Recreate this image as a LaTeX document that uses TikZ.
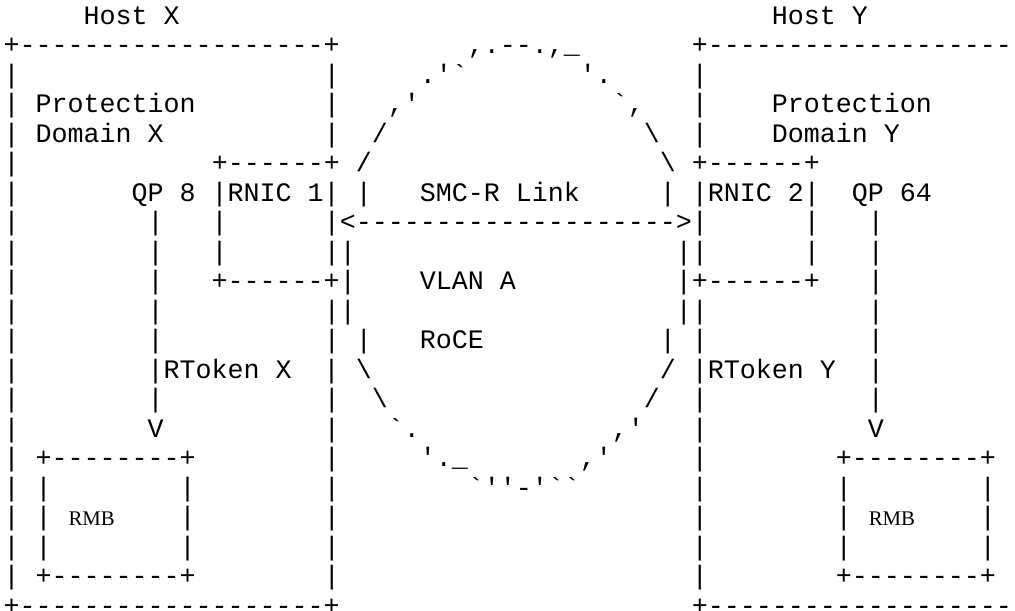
\documentclass[tikz,border=0pt]{standalone}
\usepackage{fontspec}
\setmonofont{Liberation Mono}
\newfontfamily\rmbfont{Liberation Serif}
\newdimen\CW \CW=6.001pt
\newcommand\SP[1]{\hspace*{#1\CW}}
\newcommand\BS{\textbackslash}

\begin{document}
\begin{tikzpicture}[x=1pt,y=1pt,
  ascii/.style={anchor=base west, inner sep=0pt, outer sep=0pt,
    font=\fontsize{10pt}{11pt}\ttfamily\frenchspacing},
  rmb/.style={anchor=base, inner sep=0pt, outer sep=0pt,
    font=\fontsize{7.8pt}{9pt}\rmbfont}]
\def\XL{1.39};\def\TOP{-9.04};\def\LH{11.06};
\useasboundingbox (0,0) rectangle (380.6,-228.75);
% hosts, protection domains, RNICs and the link
\node[ascii] (row0) at (\XL,\TOP) {\SP{5}Host X\SP{37}Host Y};
\node[ascii] (row1) at (\XL,\TOP-1*\LH) {+-------------------+\SP{8},.--.,\_\SP{7}+-------------------};
\node[ascii] (row2) at (\XL,\TOP-2*\LH) {|\SP{19}|\SP{5}.'`\SP{7}'.\SP{5}|};
\node[ascii] (row3) at (\XL,\TOP-3*\LH) {| Protection\SP{8}|\SP{3},'\SP{12}`,\SP{3}|\SP{4}Protection};
\node[ascii] (row4) at (\XL,\TOP-4*\LH) {| Domain X\SP{10}|\SP{2}/\SP{16}\BS\SP{2}|\SP{4}Domain Y};
\node[ascii] (row5) at (\XL,\TOP-5*\LH) {|\SP{12}+------+ /\SP{18}\BS{} +------+};
\node[ascii] (row6) at (\XL,\TOP-6*\LH) {|\SP{7}QP 8 |RNIC 1| |\SP{3}SMC-R Link\SP{5}| |RNIC 2|\SP{2}QP 64};
\node[ascii] (row7) at (\XL,\TOP-7*\LH) {|\SP{8}|\SP{3}|\SP{6}|<-------------------->|\SP{6}|\SP{3}|};
\node[ascii] (row8) at (\XL,\TOP-8*\LH) {|\SP{8}|\SP{3}|\SP{6}||\SP{20}||\SP{6}|\SP{3}|};
\node[ascii] (row9) at (\XL,\TOP-9*\LH) {|\SP{8}|\SP{3}+------+|\SP{4}VLAN A\SP{10}|+------+\SP{3}|};
\node[ascii] (row10) at (\XL,\TOP-10*\LH) {|\SP{8}|\SP{10}||\SP{20}||\SP{10}|};
\node[ascii] (row11) at (\XL,\TOP-11*\LH) {|\SP{8}|\SP{10}| |\SP{3}RoCE\SP{11}| |\SP{10}|};
\node[ascii] (row12) at (\XL,\TOP-12*\LH) {|\SP{8}|RToken X\SP{2}| \BS\SP{18}/ |RToken Y\SP{2}|};
\node[ascii] (row13) at (\XL,\TOP-13*\LH) {|\SP{8}|\SP{10}|\SP{2}\BS\SP{16}/\SP{2}|\SP{10}|};
\node[ascii] (row14) at (\XL,\TOP-14*\LH) {|\SP{8}V\SP{10}|\SP{3}`.\SP{12},'\SP{3}|\SP{10}V};
% memory buffers
\node[ascii] (row15) at (\XL,\TOP-15*\LH) {| +--------+\SP{8}|\SP{5}'.\_\SP{7},'\SP{5}|\SP{8}+--------+};
\node[ascii] (row16) at (\XL,\TOP-16*\LH) {| |\SP{8}|\SP{8}|\SP{8}`''-'``\SP{7}|\SP{8}|\SP{8}|};
\node[ascii] (row17) at (\XL,\TOP-17*\LH) {| |\SP{8}|\SP{8}|\SP{22}|\SP{8}|\SP{8}|};
\node[ascii] (row18) at (\XL,\TOP-18*\LH) {| |\SP{8}|\SP{8}|\SP{22}|\SP{8}|\SP{8}|};
\node[ascii] (row19) at (\XL,\TOP-19*\LH) {| +--------+\SP{8}|\SP{22}|\SP{8}+--------+};
\node[ascii] (row20) at (\XL,\TOP-20*\LH) {+-------------------+\SP{22}+-------------------};
\node[rmb] (rmbX) at (\XL+5.5*\CW,\TOP-17*\LH) {RMB};
\node[rmb] (rmbY) at (\XL+55.5*\CW,\TOP-17*\LH) {RMB};
\end{tikzpicture}
\end{document}
